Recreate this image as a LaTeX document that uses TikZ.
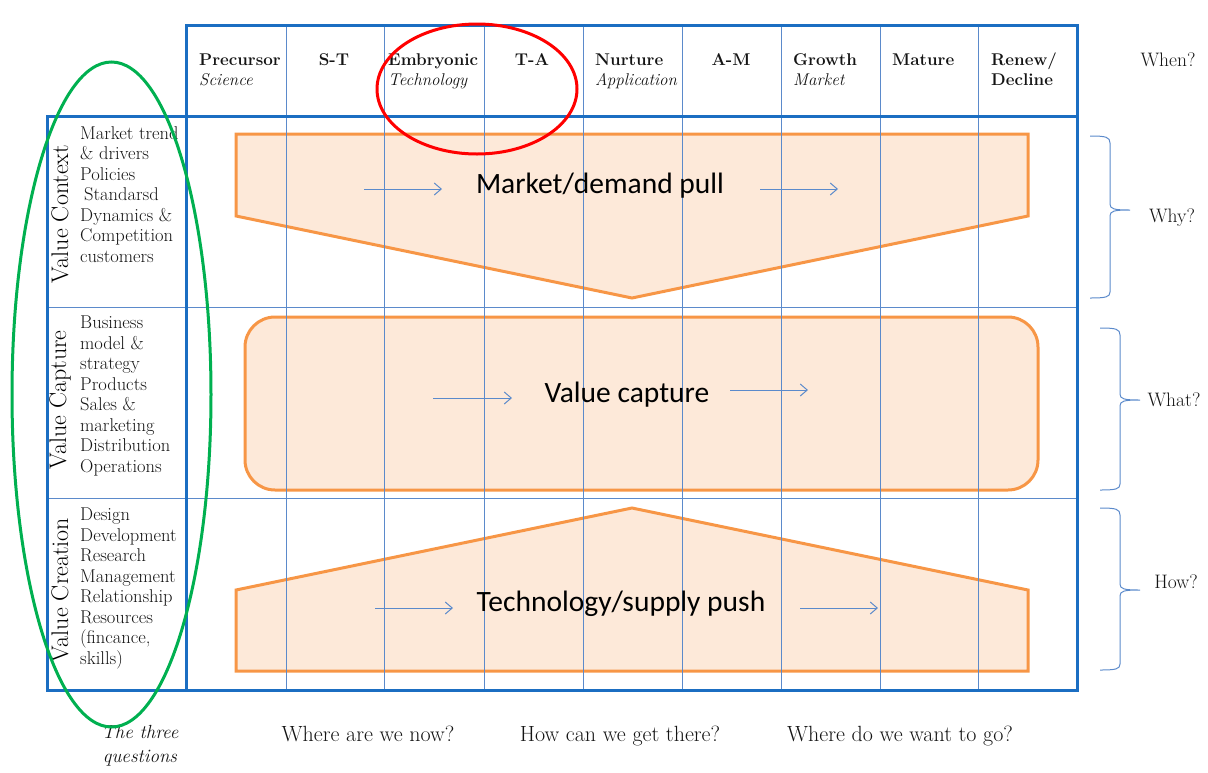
\documentclass[tikz,border=0pt]{standalone}
\usepackage{fontspec}
\newfontfamily\calib{Carlito}
\usetikzlibrary{arrows.meta}
\definecolor{frameblue}{HTML}{1B6EC2}
\definecolor{gridblue}{HTML}{5B8ACB}
\definecolor{bandfill}{HTML}{FDE9D9}
\definecolor{bandline}{HTML}{F79646}
\definecolor{ringgreen}{HTML}{00B050}
\definecolor{ringred}{HTML}{FF0000}
\definecolor{inkgray}{HTML}{141414}
\begin{document}
\begin{tikzpicture}[x=1pt,y=-1pt,
  frame/.style={draw=frameblue,line width=3pt},
  gridline/.style={draw=gridblue,line width=1pt},
  band/.style={draw=bandline,fill=bandfill,line width=3pt,line join=miter},
  flow/.style={draw=gridblue,line width=1pt,-{Straight Barb[length=7pt,width=12pt]}},
  bracket/.style={draw=gridblue,line width=1pt},
  stage/.style={inner sep=0pt,anchor=base west,font=\fontsize{17}{20}\selectfont\bfseries,text=inkgray},
  stagemid/.style={inner sep=0pt,anchor=base,font=\fontsize{17}{20}\selectfont\bfseries,text=inkgray},
  substage/.style={inner sep=0pt,anchor=base west,font=\fontsize{17}{20}\selectfont\itshape,text=inkgray},
  rowtitle/.style={inner sep=0pt,rotate=90,font=\fontsize{24}{28}\selectfont,text=black},
  items/.style={inner sep=0pt,anchor=north west,align=left,font=\fontsize{18.5}{20.5}\selectfont,text=inkgray},
  bandtext/.style={inner sep=0pt,font=\calib\fontsize{29.5}{34}\selectfont,text=black},
  question/.style={inner sep=0pt,font=\fontsize{19.5}{22}\selectfont,text=inkgray},
  bottomq/.style={inner sep=0pt,anchor=base,font=\fontsize{22}{24}\selectfont,text=inkgray}]
\useasboundingbox (0,0) rectangle (1208,772);

% orange bands
\draw[band] (236,134) -- (1028,134) -- (1028,216) -- (632,298) -- (236,216) -- cycle;
\draw[band,rounded corners=30pt] (245,317) rectangle (1038,490);
\draw[band] (236,590) -- (632,508) -- (1028,590) -- (1028,671) -- (236,671) -- cycle;

% thin grid
\foreach \gx in {286,384,484,583,682,781,880,978}
  \draw[gridline] (\gx,25) -- (\gx,690);
\draw[gridline] (47,307) -- (1077,307);
\draw[gridline] (47,498) -- (1077,498);

% heavy frame
\draw[frame] (186,25) rectangle (1077,116);
\draw[frame] (47,116) rectangle (1077,690);
\draw[frame] (186,116) -- (186,690);

% stage headings
\node[stage] (pre) at (199,65) {Precursor};
\node[substage] (sci) at (199,85) {Science};
\node[stagemid] (st) at (334,65) {S-T};
\node[stage] (emb) at (388,65) {Embryonic};
\node[substage] (tec) at (388,85) {Technology};
\node[stagemid] (ta) at (532,65) {T-A};
\node[stage] (nur) at (595,65) {Nurture};
\node[substage] (app) at (595,85) {Application};
\node[stagemid] (am) at (731,65) {A-M};
\node[stage] (gro) at (793,65) {Growth};
\node[substage] (mkt) at (793,85) {Market};
\node[stage] (mat) at (892,65) {Mature};
\node[stage] (ren) at (991,65) {Renew/};
\node[stage] (dec) at (991,85) {Decline};

% row titles and contents
\node[rowtitle] (vctx) at (60,214) {Value Context};
\node[rowtitle] (vcap) at (60,400) {Value Capture};
\node[rowtitle] (vcre) at (60,590) {Value Creation};
\node[items] (ctxitems) at (80,126) {Market trend\\ \& drivers\\ Policies\\ \hspace{4pt}Standarsd\\ Dynamics \&\\ Competition\\ customers};
\node[items] (capitems) at (80,316) {Business\\ model \&\\ strategy\\ Products\\ Sales \&\\ marketing\\ Distribution\\ Operations};
\node[items] (creitems) at (80,508) {Design\\ Development\\ Research\\ Management\\ Relationship\\ Resources\\ (fincance,\\ skills)};

% band labels
\node[bandtext] (pull) at (600,186) {Market/demand pull};
\node[bandtext] (capt) at (627,395) {Value capture};
\node[bandtext] (push) at (621,604) {Technology/supply push};

% flow arrows
\coordinate (p1a) at (364,189); \coordinate (p1b) at (442,189);
\coordinate (p2a) at (760,189); \coordinate (p2b) at (838,189);
\coordinate (c1a) at (433,398); \coordinate (c1b) at (512,398);
\coordinate (c2a) at (730,390); \coordinate (c2b) at (808,390);
\coordinate (t1a) at (375,608); \coordinate (t1b) at (453,608);
\coordinate (t2a) at (800,608); \coordinate (t2b) at (878,608);
\draw[flow] (p1a) -- (p1b);
\draw[flow] (p2a) -- (p2b);
\draw[flow] (c1a) -- (c1b);
\draw[flow] (c2a) -- (c2b);
\draw[flow] (t1a) -- (t1b);
\draw[flow] (t2a) -- (t2b);

% right-hand brackets
\draw[bracket] (1090,136) .. controls (1106,136) and (1110,137) .. (1110,143) -- (1110,204)
  .. controls (1110,209) and (1114,210) .. (1130,210)
  .. controls (1114,210) and (1110,211) .. (1110,216) -- (1110,292)
  .. controls (1110,297) and (1106,298) .. (1090,298);
\draw[bracket] (1100,328) .. controls (1116,328) and (1120,329) .. (1120,335) -- (1120,394)
  .. controls (1120,399) and (1124,400) .. (1140,400)
  .. controls (1124,400) and (1120,401) .. (1120,406) -- (1120,484)
  .. controls (1120,489) and (1116,490) .. (1100,490);
\draw[bracket] (1100,508) .. controls (1116,508) and (1120,509) .. (1120,515) -- (1120,584)
  .. controls (1120,589) and (1124,590) .. (1140,590)
  .. controls (1124,590) and (1120,591) .. (1120,596) -- (1120,664)
  .. controls (1120,669) and (1116,670) .. (1100,670);

% questions
\node[question] (when) at (1168,60) {When?};
\node[question] (why) at (1172,218) {Why?};
\node[question] (what) at (1174,400) {What?};
\node[question] (how) at (1176,582) {How?};

\node[bottomq] (now) at (368,741) {Where are we now?};
\node[bottomq] (there) at (620,741) {How can we get there?};
\node[bottomq] (go) at (900,741) {Where do we want to go?};
\node[inner sep=0pt,align=center,font=\fontsize{19}{24}\selectfont\itshape,text=inkgray] (three) at (140,746) {The three\\ questions};

% highlight rings
\draw[ringgreen,line width=3pt] (111.5,394.5) ellipse [x radius=99.5pt,y radius=332.5pt];
\draw[ringred,line width=3pt] (477,89) ellipse [x radius=100pt,y radius=65pt];
\end{tikzpicture}
\end{document}
